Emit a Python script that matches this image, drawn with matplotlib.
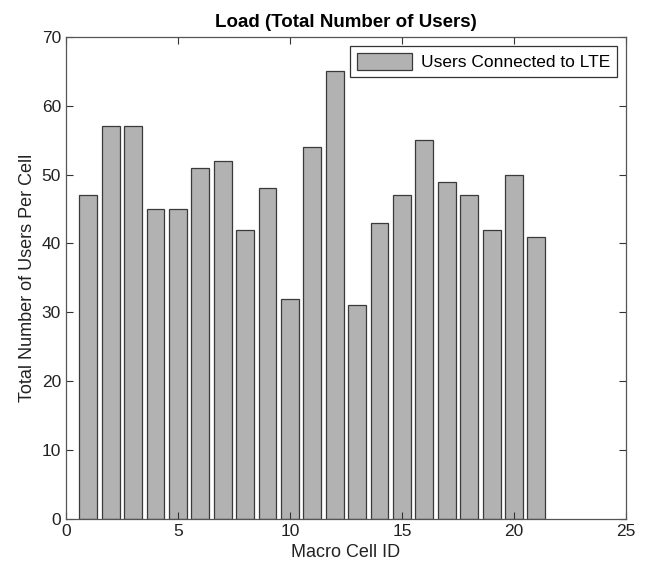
import matplotlib
matplotlib.use('Agg')
import matplotlib.pyplot as plt
import numpy as np

plt.rcParams['font.family'] = ['Liberation Sans', 'DejaVu Sans']

# 数据
cell_ids = np.arange(1, 22)
users = [47, 57, 57, 45, 45, 51, 52, 42, 48, 32, 54, 65, 31, 43, 47, 55, 49, 47, 42, 50, 41]
x_ticks = [0, 5, 10, 15, 20, 25]
y_ticks = [0, 10, 20, 30, 40, 50, 60, 70]

fig = plt.figure(figsize=(6.46, 5.70), dpi=100)
ax = fig.add_axes([0.102, 0.09, 0.867, 0.845])

ax.bar(cell_ids, users, width=0.8, color='#b2b2b2', edgecolor='#3a3a3a',
       linewidth=0.9, label='Users Connected to LTE')

ax.set_xlim(0, 25)
ax.set_ylim(0, 70)
ax.set_xticks(x_ticks)
ax.set_yticks(y_ticks)
ax.tick_params(direction='in', top=True, right=True, labelsize=12.5, length=5,
               colors='#333333', labelcolor='#222222')
for s in ax.spines.values():
    s.set_color('#555555')
    s.set_linewidth(0.9)

ax.set_xlabel('Macro Cell ID', fontsize=13, color='#222222')
ax.set_ylabel('Total Number of Users Per Cell', fontsize=13, color='#222222')
ax.set_title('Load (Total Number of Users)', fontsize=13.5, fontweight='bold', pad=7)

leg = ax.legend(loc='upper right', fontsize=12.5, fancybox=False, framealpha=1,
                edgecolor='#333333', handlelength=3.2, handleheight=1.2,
                handletextpad=0.5, borderaxespad=0.5)
leg.get_frame().set_linewidth(0.9)

fig.savefig('out.png', dpi=100)
